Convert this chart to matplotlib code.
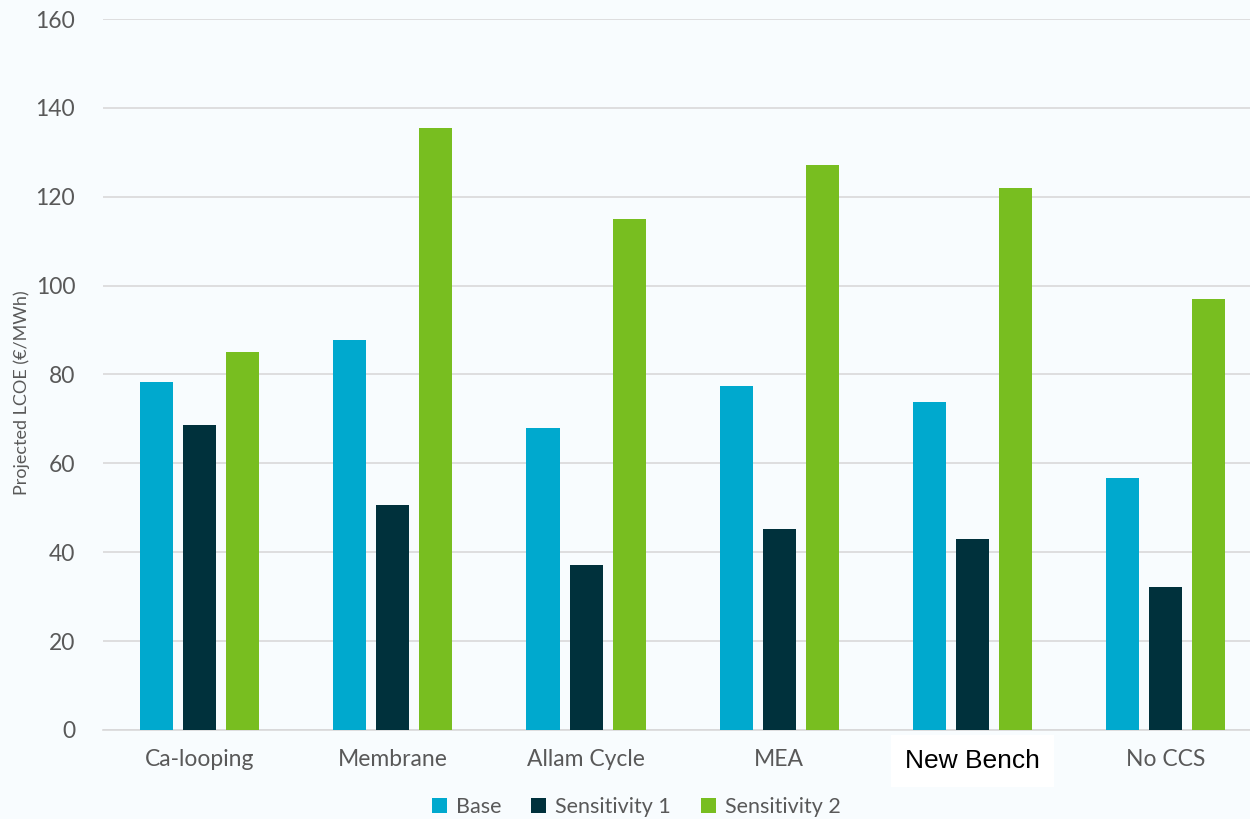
import matplotlib.pyplot as plt
import numpy as np

categories = ["Ca-looping", "Membrane", "Allam Cycle", "MEA", "New Bench", "No CCS"]
base = [78.3, 87.8, 68.0, 77.3, 73.9, 56.6]
sens1 = [68.6, 50.7, 37.2, 45.3, 43.0, 32.2]
sens2 = [85.0, 135.5, 115.0, 127.2, 121.9, 97.0]
series_names = ["Base", "Sensitivity 1", "Sensitivity 2"]
colors = ["#00A9CE", "#00313C", "#78BE20"]

bg = "#F8FCFE"
grey = "#595959"
plt.rcParams['font.family'] = ['Lato', 'DejaVu Sans']

fig = plt.figure(figsize=(12.5, 8.19), dpi=100, facecolor=bg)
ax = fig.add_axes([0.0824, 0.1087, 0.9275, 0.8681], facecolor=bg)

x = np.arange(len(categories))
w = 0.171
pitch = 0.223
for i, (vals, name, c) in enumerate(zip([base, sens1, sens2], series_names, colors)):
    ax.bar(x + (i - 1) * pitch, vals, w, color=c, label=name, zorder=3)

ax.set_xlim(-0.5, len(categories) - 0.5)
ax.set_ylim(0, 160)
ax.set_yticks(range(0, 161, 20))
ax.yaxis.grid(True, color="#D9D9D9", linewidth=1.2, zorder=0)
for s in ["top", "right", "left"]:
    ax.spines[s].set_visible(False)
ax.spines["bottom"].set_color("#D9D9D9")
ax.spines["bottom"].set_linewidth(1.2)
ax.tick_params(axis="both", length=0, labelsize=16.5, labelcolor=grey)
ax.tick_params(axis="y", pad=20)
ax.tick_params(axis="x", pad=14)
ax.set_xticks(x)
ax.set_xticklabels(categories)
fig.text(22 / 1250, 0.521, "Projected LCOE (€/MWh)", rotation=90, fontsize=13,
         color=grey, ha="center", va="center")

# the odd label sits in a white box with a different font
lbl = ax.get_xticklabels()[4]
lbl.set_fontfamily("Liberation Sans")
lbl.set_fontsize(19)
lbl.set_color("black")
lbl.set_bbox(dict(facecolor="white", edgecolor="none", pad=10))

leg = fig.legend(loc="lower center", bbox_to_anchor=(0.509, -0.021), ncol=3, frameon=False,
                 fontsize=15.5, handlelength=0.7, handleheight=0.7, handletextpad=0.4,
                 columnspacing=1.4)
for t in leg.get_texts():
    t.set_color(grey)

fig.savefig("out.png", dpi=100, facecolor=bg)
